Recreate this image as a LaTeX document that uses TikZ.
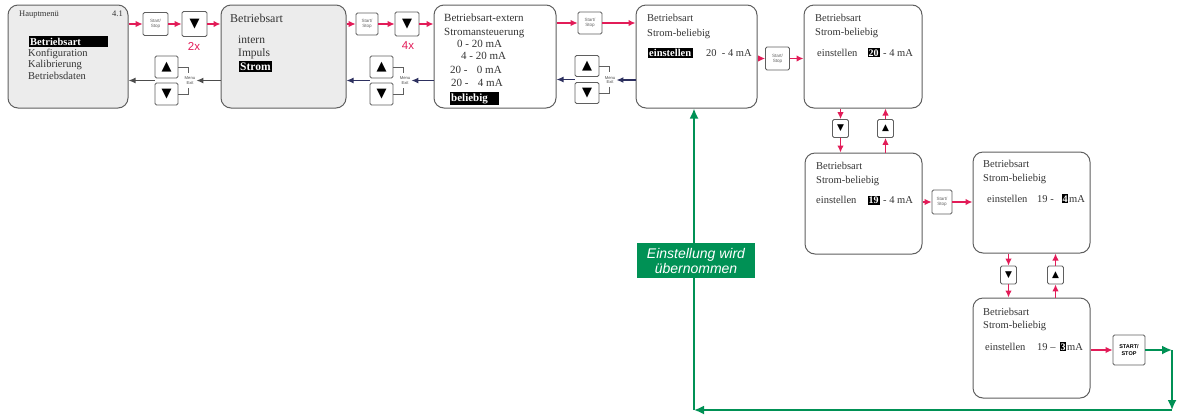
\documentclass[tikz,border=0pt]{standalone}
\usepackage{fontspec}
\setmainfont{Liberation Serif}
\newfontfamily\sansf{Liberation Sans}
\newfontfamily\symf{DejaVu Sans}
\usetikzlibrary{arrows.meta,calc}
\definecolor{myred}{RGB}{226,28,88}
\definecolor{mygreen}{RGB}{0,145,85}
\definecolor{mynavy}{RGB}{45,48,95}
\definecolor{boxgray}{RGB}{236,236,236}
\definecolor{linegray}{RGB}{95,95,95}
\begin{document}
\begin{tikzpicture}[x=1pt,y=-1pt,
 panel/.style={draw=linegray, line width=1pt, rounded corners=10pt, inner sep=0pt},
 btn/.style={draw=linegray, line width=0.8pt, rounded corners=1.5pt, inner sep=0pt, fill=white},
 tri/.style={btn, font=\symf\fontsize{13}{13}\selectfont},
 tris/.style={btn, font=\symf\fontsize{9}{9}\selectfont, minimum width=16pt, minimum height=18pt},
 ss/.style={btn, font=\sansf\fontsize{4.6}{5}\selectfont, text=black!60, align=center},
 txt/.style={anchor=base west, inner sep=0pt, text=black!80, font=\fontsize{10.5}{12}\selectfont},
 hl/.style={anchor=base west, fill=black, text=white, font=\bfseries\fontsize{10.5}{12}\selectfont, inner xsep=1.5pt, inner ysep=1.5pt},
 hln/.style={anchor=base west, fill=black, text=white, font=\bfseries\fontsize{10}{12}\selectfont, inner xsep=1pt, inner ysep=1.2pt},
 mx/.style={font=\sansf\fontsize{4.2}{4.8}\selectfont, text=black!70, align=center, inner sep=0pt},
 brk/.style={draw=linegray, line width=0.5pt},
 rarr/.style={draw=myred, line width=1.3pt, -{Latex[length=7pt,width=6.5pt]}},
 darr/.style={draw=black!70, line width=1.2pt, -{Latex[length=7pt,width=6pt]}},
 narr/.style={draw=mynavy, line width=1.2pt, -{Latex[length=7pt,width=6pt]}},
 garr/.style={draw=mygreen, line width=1.8pt, -{Latex[length=10pt,width=9pt]}},
 cnt/.style={font=\sansf\fontsize{11.5}{11.5}\selectfont, text=myred, inner sep=0pt}
]
\useasboundingbox (0,0) rectangle (1188,416);

% ---------- panels ----------
\node[panel, fill=boxgray, minimum width=120pt, minimum height=103pt] (b1) at (68,56.5) {};
\node[panel, fill=boxgray, minimum width=125pt, minimum height=103pt] (b2) at (283.5,56.5) {};
\node[panel, fill=white, minimum width=122pt, minimum height=103pt] (b3) at (495,56.5) {};
\node[panel, fill=white, minimum width=121pt, minimum height=103pt] (b4) at (696.5,56.5) {};
\node[panel, fill=white, minimum width=118pt, minimum height=103pt] (b5) at (863,56.5) {};
\node[panel, fill=white, minimum width=117pt, minimum height=101pt] (b6) at (863.5,203.5) {};
\node[panel, fill=white, minimum width=117pt, minimum height=101pt] (b7) at (1031.5,202.5) {};
\node[panel, fill=white, minimum width=117pt, minimum height=100pt] (b8) at (1031.5,348) {};

% ---------- panel texts ----------
% box 1
\node[txt, font=\fontsize{8.5}{10}\selectfont] (t1a) at (19,16) {Hauptmenü};
\node[txt, font=\fontsize{8.5}{10}\selectfont] (t1b) at (112,16) {4.1};
\node[hl] (t1c) at (28.5,45) {\makebox[76pt][l]{Betriebsart}};
\node[txt] (t1d) at (28,56) {Konfiguration};
\node[txt] (t1e) at (28,67.5) {Kalibrierung};
\node[txt] (t1f) at (28,79) {Betriebsdaten};
% box 2
\node[txt, font=\fontsize{12}{14}\selectfont] (t2a) at (230,22) {Betriebsart};
\node[txt, font=\fontsize{11.5}{14}\selectfont] (t2b) at (238,43) {intern};
\node[txt, font=\fontsize{11.5}{14}\selectfont] (t2c) at (238,56) {Impuls};
\node[hl, font=\bfseries\fontsize{11.5}{14}\selectfont] (t2d) at (238.5,70.5) {Strom};
% box 3
\node[txt, font=\fontsize{11}{13}\selectfont] (t3a) at (444,21) {Betriebsart-extern};
\node[txt, font=\fontsize{11}{13}\selectfont] (t3b) at (444,35) {Stromansteuerung};
\node[txt, font=\fontsize{11}{13}\selectfont] (t3c) at (457,47) {0 - 20 mA};
\node[txt, font=\fontsize{11}{13}\selectfont] (t3d) at (461,59.5) {4 - 20 mA};
\node[txt, font=\fontsize{11}{13}\selectfont] (t3e) at (450,73) {20 -\hspace{0.6em} 0 mA};
\node[txt, font=\fontsize{11}{13}\selectfont] (t3f) at (451,86) {20 -\hspace{0.6em} 4 mA};
\node[hl, font=\bfseries\fontsize{11}{13}\selectfont] (t3g) at (449.5,101) {\makebox[46pt][l]{beliebig}};
% box 4
\node[txt] (t4a) at (647,21) {Betriebsart};
\node[txt] (t4b) at (647,36) {Strom-beliebig};
\node[hl] (t4c) at (647.5,56.5) {einstellen};
\node[txt] (t4d) at (706,56.5) {20\,\,\,- 4 mA};
% box 5
\node[txt] (t5a) at (815,21) {Betriebsart};
\node[txt] (t5b) at (815,35) {Strom-beliebig};
\node[txt] (t5c) at (817,56) {einstellen};
\node[hln] (t5d) at (867.5,56) {20};
\node[txt] (t5e) at (883,56) {- 4 mA};
% box 6
\node[txt] (t6a) at (816,169) {Betriebsart};
\node[txt] (t6b) at (816,183) {Strom-beliebig};
\node[txt] (t6c) at (816,203.5) {einstellen};
\node[hln] (t6d) at (867.5,203.5) {19};
\node[txt] (t6e) at (883,203.5) {- 4 mA};
% box 7
\node[txt] (t7a) at (983,167) {Betriebsart};
\node[txt] (t7b) at (983,181) {Strom-beliebig};
\node[txt] (t7c) at (987,202) {einstellen};
\node[txt] (t7d) at (1037,202) {19 -};
\node[hln, inner xsep=0.8pt] (t7e) at (1061.5,202) {4};
\node[txt] (t7f) at (1069,202) {mA};
% box 8
\node[txt] (t8a) at (983,315) {Betriebsart};
\node[txt] (t8b) at (983,328.5) {Strom-beliebig};
\node[txt] (t8c) at (985,350) {einstellen};
\node[txt] (t8d) at (1037,350) {19 –};
\node[hln, inner xsep=0.8pt] (t8e) at (1059.5,350) {3};
\node[txt] (t8f) at (1067,350) {mA};

% ---------- buttons row 1, set 1 ----------
\node[ss, minimum width=25pt, minimum height=23pt] (s1) at (155.5,24) {Start/\\Stop};
\node[tri, minimum width=25pt, minimum height=25pt] (dn1) at (194.5,24) {▼};
\node[cnt] (c2x) at (194,46) {2x};
\node[tri, minimum width=23pt, minimum height=22pt] (u1) at (166.5,67) {▲};
\node[tri, minimum width=23pt, minimum height=22pt] (d1) at (166.5,94) {▼};
\draw[brk] (u1.east) -- ++(10,0) -- ++(0,6);
\draw[brk] (d1.east) -- ++(10,0) -- ++(0,-6);
\node[mx] (mx1) at (190,80.5) {Menu\\Exit};

% ---------- set 2 ----------
\node[ss, minimum width=22pt, minimum height=22pt] (s2) at (367,24) {Start/\\Stop};
\node[tri, minimum width=24pt, minimum height=24pt] (dn2) at (407,24) {▼};
\node[cnt] (c4x) at (408,46) {4x};
\node[tri, minimum width=23pt, minimum height=22pt] (u2) at (381.5,67) {▲};
\node[tri, minimum width=23pt, minimum height=22pt] (d2) at (381.5,94) {▼};
\draw[brk] (u2.east) -- ++(10,0) -- ++(0,6);
\draw[brk] (d2.east) -- ++(10,0) -- ++(0,-6);
\node[mx] (mx2) at (405,80.5) {Menu\\Exit};

% ---------- set 3 ----------
\node[ss, minimum width=24pt, minimum height=22pt] (s3) at (590,23) {Start/\\Stop};
\node[tri, minimum width=24pt, minimum height=21pt] (u3) at (587,66) {▲};
\node[tri, minimum width=24pt, minimum height=21pt] (d3) at (587,93) {▼};
\draw[brk] (u3.east) -- ++(10,0) -- ++(0,6);
\draw[brk] (d3.east) -- ++(10,0) -- ++(0,-6);
\node[mx] (mx3) at (610,80) {Menu\\Exit};

% ---------- other buttons ----------
\node[ss, minimum width=24pt, minimum height=23pt] (s4) at (777.5,58.5) {Start/\\Stop};
\node[tris] (dn5) at (840.5,128.5) {▼};
\node[tris] (up5) at (885.5,128.5) {▲};
\node[ss, minimum width=20pt, minimum height=24pt] (s6) at (942,202) {Start/\\Stop};
\node[tris] (dn7) at (1008.5,275) {▼};
\node[tris] (up7) at (1055.5,275) {▲};
\node[btn, minimum width=32pt, minimum height=30pt, font=\sansf\bfseries\fontsize{5.5}{7}\selectfont, align=center] (st) at (1129,350) {START/\\STOP};

% ---------- red forward arrows ----------
\draw[rarr] (b1.east |- s1.west) -- (s1.west);
\draw[rarr] (s1.east) -- (dn1.west);
\draw[rarr] (dn1.east) -- (dn1.east -| b2.west);
\draw[rarr] (b2.east |- s2.west) -- (s2.west);
\draw[rarr] (s2.east) -- (dn2.west);
\draw[rarr] (dn2.east) -- (dn2.east -| b3.west);
\draw[rarr] (b3.east |- s3.west) -- (s3.west);
\draw[rarr] (s3.east) -- (s3.east -| b4.west);
\draw[rarr] (b4.east |- s4.west) -- (s4.west);
\draw[rarr] (s4.east) -- (s4.east -| b5.west);
\draw[rarr] (dn5.north |- b5.south) -- (dn5.north);
\draw[rarr] (dn5.south) -- (dn5.south |- b6.north);
\draw[rarr] (up5.south |- b6.north) -- (up5.south);
\draw[rarr] (up5.north) -- (up5.north |- b5.south);
\draw[rarr] (b6.east |- s6.west) -- (s6.west);
\draw[rarr] (s6.east) -- (s6.east -| b7.west);
\draw[rarr] (dn7.north |- b7.south) -- (dn7.north);
\draw[rarr] (dn7.south) -- (dn7.south |- b8.north);
\draw[rarr] (up7.south |- b8.north) -- (up7.south);
\draw[rarr] (up7.north) -- (up7.north |- b7.south);
\draw[rarr] (b8.east |- st.west) -- (st.west);

% ---------- back arrows ----------
\coordinate (m1) at ($(u1.west)!0.5!(d1.west)$);
\coordinate (m2) at ($(u2.west)!0.5!(d2.west)$);
\coordinate (m3) at ($(u3.west)!0.5!(d3.west)$);
\draw[darr] (b2.west |- mx1.east) -- ([xshift=1pt]mx1.east);
\draw[darr] (m1) -- (m1 -| b1.east);
\draw[narr] (b3.west |- mx2.east) -- ([xshift=1pt]mx2.east);
\draw[narr] (m2) -- (m2 -| b2.east);
\draw[narr] (b4.west |- mx3.east) -- ([xshift=1pt]mx3.east);
\draw[narr] (m3) -- (m3 -| b3.east);

% ---------- green return ----------
\coordinate (g1) at (1172,350);
\coordinate (g2) at (1172,410);
\coordinate (g3) at (694,410);
\draw[garr] (st.east) -- (g1);
\draw[garr] (g1) -- (g2);
\draw[garr] (g2) -- (g3);
\draw[garr] (g3) -- (g3 |- b4.south);
\node[fill=mygreen, text=white, font=\sansf\itshape\fontsize{14}{15}\selectfont, align=center, minimum width=118pt, minimum height=35pt, inner sep=0pt] (gl) at (696,260.5) {Einstellung wird\\übernommen};
\end{tikzpicture}
\end{document}
